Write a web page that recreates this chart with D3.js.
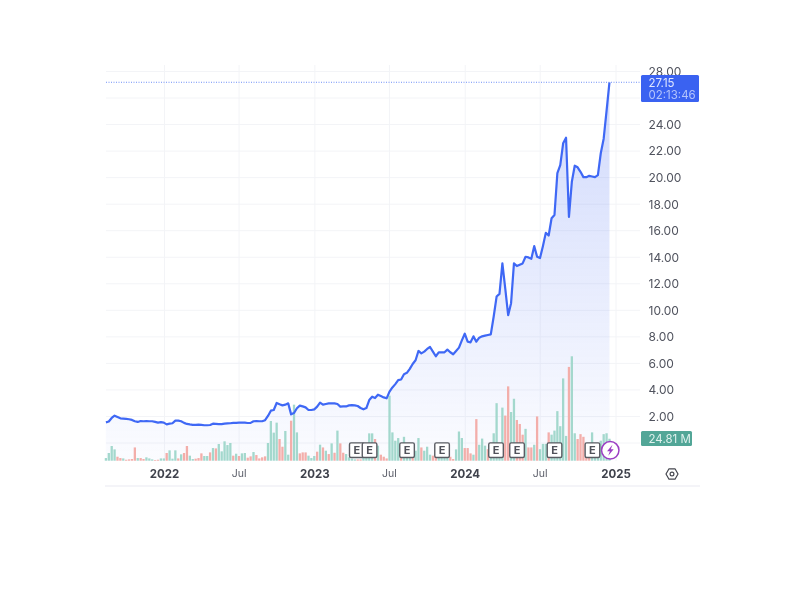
<!DOCTYPE html>
<html><head><meta charset="utf-8">
<script src="https://cdn.jsdelivr.net/npm/d3@7"></script>
<style>
html,body{margin:0;padding:0;background:#fff}
svg{display:block;filter:blur(0.5px)}
text{font-family:Inter,"Noto Sans",sans-serif}
</style></head><body>
<script>
const prices=[1.52,1.58,1.85,2.02,1.92,1.82,1.80,1.78,1.75,1.70,1.60,1.55,1.62,1.60,1.61,1.60,1.60,1.55,1.50,1.53,1.50,1.37,1.42,1.45,1.65,1.65,1.60,1.48,1.40,1.36,1.33,1.33,1.35,1.33,1.30,1.30,1.32,1.42,1.40,1.38,1.38,1.42,1.44,1.45,1.48,1.48,1.50,1.50,1.50,1.47,1.48,1.60,1.62,1.60,1.60,1.68,2.00,2.40,2.45,2.98,2.88,2.80,2.85,2.95,2.12,2.22,2.58,2.78,2.72,2.65,2.45,2.45,2.50,2.70,3.00,2.85,2.90,2.95,2.95,2.95,2.90,2.70,2.72,2.72,2.80,2.82,2.80,2.75,2.60,2.50,2.60,3.20,3.45,3.35,3.60,3.50,3.40,3.33,3.83,4.15,4.40,4.70,4.75,5.15,5.25,5.55,5.92,6.20,6.90,6.72,6.85,7.05,7.20,6.85,6.50,6.80,6.80,6.80,7.00,6.80,6.65,6.90,7.15,7.70,8.20,7.60,7.55,8.00,7.60,7.90,8.00,8.05,8.10,8.15,9.50,11.00,11.20,13.50,11.60,9.60,10.50,13.50,13.30,13.40,13.50,14.00,13.95,13.85,14.80,14.00,13.90,14.80,15.80,15.60,16.90,17.15,20.30,20.90,22.55,22.97,17.00,19.65,20.86,20.74,20.40,20.00,20.00,20.10,20.05,20.00,20.15,21.80,22.90,25.00,27.15];
const volumes=[3,8.7,16.6,12.8,4.5,3,2.6,1.1,1.5,1.9,15,3,3,1.9,3.8,2.6,1.5,0.8,1.1,2.6,2.6,8.7,11.7,2.3,11.7,2.6,7.2,8.7,16.6,5.7,1.9,2.3,3,8.3,5.3,5.3,9.4,14.3,13.9,18.9,10.6,21.9,17.7,20,5.7,7.9,5.3,8.3,8.7,3.4,4.9,9.8,6.4,2.6,3.8,4.9,20,44.9,31.7,43,24.5,15.8,33.6,6.8,45.2,63.3,32,8.3,9.4,9.4,5.7,3,5.3,10.2,18.1,15,11.3,7.5,19.6,9,34,19.6,9,7.5,3.8,2.3,1.5,1.5,1.5,3,11.3,30.9,30.9,24.5,17,6.8,4.5,2.6,73.5,32,22.6,25.6,17,27,11.3,9.4,7.5,11.3,25.6,15,11.3,15.8,6.8,5.7,7.5,9.4,7.5,4.5,9.4,4.5,1.9,12.8,33,25.6,14.3,14.3,8.3,6.8,47,18,25,17,13,11.3,31,65,15,60,51,84,55,70,46,41.5,29.4,36,15,15,18,50,13,19,19,32,29.4,34,56,39,93,28,106,118,31,24.5,30,27,15,11.3,32,11.3,13,22.6,30,31,24.81];
const volUp=[1,1,1,1,0,0,1,0,0,0,0,1,0,0,1,1,1,0,0,1,1,0,1,1,1,0,1,0,0,1,1,0,0,0,1,1,0,1,0,1,1,1,1,1,0,1,0,1,1,0,0,1,0,0,0,0,1,1,1,1,0,0,1,1,0,1,1,0,0,0,1,1,1,0,1,0,1,0,1,0,1,0,0,1,1,1,1,0,0,1,1,1,1,0,1,0,0,0,1,1,1,1,0,1,1,1,0,1,1,0,1,1,1,0,0,1,1,1,1,0,0,1,1,1,0,0,0,1,0,1,1,1,0,1,1,1,1,1,0,0,1,1,0,0,0,1,0,0,1,0,1,1,1,0,1,1,1,1,1,1,0,1,1,0,0,0,0,0,1,1,1,1,1,1,1];
const priceLabels=[2,4,6,8,10,12,14,16,18,20,22,24,28];
const priceGrid=[0,2,4,6,8,10,12,14,16,18,20,22,24,26,28];
const yearTicks=["2022-01-01","2022-07-01","2023-01-01","2023-07-01","2024-01-01","2024-07-01","2025-01-01"];
const tickNames=["2022","Jul","2023","Jul","2024","Jul","2025"];
const earningsDates=["2023-04-14","2023-05-15","2023-08-14","2023-11-07","2024-03-17","2024-05-07","2024-08-06","2024-11-06"];
const lastPrice=27.15, lastPriceTime="02:13:46", lastVolumeLabel="24.81 M";
const startDate=new Date(2021,7,13);
const stepHours=168.6;

const dates=prices.map((_,i)=>d3.timeHour.offset(startDate,stepHours*i));
const tickDates=yearTicks.map(s=>d3.timeParse("%Y-%m-%d")(s));
const W=800,H=600;
const x=d3.scaleTime().domain([tickDates[0],tickDates[6]]).range([164,615.5]);
const y=d3.scaleLinear().domain([0,28]).range([442.5,71]);
const yV=d3.scaleLinear().domain([0,120]).range([460.7,354.5]);
const svg=d3.select("body").append("svg").attr("width",W).attr("height",H);
const defs=svg.append("defs");
const g=defs.append("linearGradient").attr("id","fill").attr("x1",0).attr("x2",0).attr("y1",0).attr("y2",1);
g.append("stop").attr("offset",0).attr("stop-color","#3d63f2").attr("stop-opacity",.24);
g.append("stop").attr("offset",1).attr("stop-color","#3d63f2").attr("stop-opacity",.02);

// grid
const gridC="#f3f4f7";
const gy=svg.append("g").attr("transform","translate(106,0)").call(d3.axisRight(y).tickValues(priceGrid).tickSize(534).tickFormat(""));
gy.select(".domain").remove(); gy.selectAll("line").attr("stroke",gridC);
const gx=svg.append("g").attr("transform","translate(0,65)").call(d3.axisBottom(x).tickValues(tickDates).tickSize(396).tickFormat(""));
gx.select(".domain").remove(); gx.selectAll("line").attr("stroke",gridC);

// area, volume, line
svg.append("path").datum(prices).attr("fill","url(#fill)")
 .attr("d",d3.area().x((d,i)=>x(dates[i])).y0(yV(0)).y1(d=>y(d)));
svg.append("g").selectAll("rect").data(volumes).join("rect")
 .attr("x",(d,i)=>x(dates[i])-1.15).attr("width",2.3)
 .attr("y",d=>yV(d)).attr("height",d=>yV(0)-yV(d))
 .attr("fill",(d,i)=>volUp[i]?"#a3d8cd":"#f3aeaa");
svg.append("path").datum(prices).attr("fill","none").attr("stroke","#3f68f5").attr("stroke-width",2.2).attr("stroke-linejoin","round")
 .attr("d",d3.line().x((d,i)=>x(dates[i])).y(d=>y(d)));

// last price line
svg.append("line").attr("x1",106).attr("x2",641).attr("y1",y(lastPrice)).attr("y2",y(lastPrice))
 .attr("stroke","#6f8ff7").attr("stroke-dasharray","1 1.5");

// axes
const ay=svg.append("g").attr("transform","translate(640,0)").call(d3.axisRight(y).tickValues(priceLabels).tickSize(0).tickPadding(8.5).tickFormat(d3.format(".2f")));
ay.select(".domain").remove();
ay.selectAll("text").attr("font-size",12).attr("fill","#50535e").attr("dy","0.36em");
const ax=svg.append("g").attr("transform","translate(0,468)").call(d3.axisBottom(x).tickValues(tickDates).tickSize(0).tickPadding(2).tickFormat((d,i)=>tickNames[i]));
ax.select(".domain").remove();
ax.selectAll("text").attr("font-size",(d,i)=>i%2?10.5:11.5).attr("font-weight",(d,i)=>i%2?400:700)
 .attr("fill",(d,i)=>i%2?"#5a5d68":"#3f424c");
svg.append("line").attr("x1",105).attr("x2",700).attr("y1",486).attr("y2",486).attr("stroke","#e9eaf2").attr("stroke-width",1.2);

// price tag
svg.append("rect").attr("x",641).attr("y",75).attr("width",58).attr("height",27).attr("rx",1.5).attr("fill","#3a62f1");
svg.append("text").attr("x",648.5).attr("y",86.5).attr("font-size",11.5).attr("fill","#dfe6ff").text(lastPrice.toFixed(2));
svg.append("text").attr("x",648.5).attr("y",99).attr("font-size",11.5).attr("fill","#b4c4fb").text(lastPriceTime);
// volume tag
svg.append("rect").attr("x",641).attr("y",431).attr("width",51).attr("height",15).attr("rx",1.5).attr("fill","#52a697");
svg.append("text").attr("x",648.5).attr("y",442.5).attr("font-size",11.5).attr("fill","#dff1ed").text(lastVolumeLabel);

// earnings markers
const eg=svg.append("g").selectAll("g").data(earningsDates.map(d3.timeParse("%Y-%m-%d"))).join("g")
 .attr("transform",d=>`translate(${x(d)},450.2)`);
eg.append("rect").attr("x",-7.3).attr("y",-7.3).attr("width",14.6).attr("height",14.6).attr("rx",1.5).attr("fill","#fff").attr("stroke","#5a5c63").attr("stroke-width",1.4);
eg.append("text").attr("text-anchor","middle").attr("y",4).attr("font-size",11).attr("font-weight",700).attr("fill","#50525a").text("E");

// bolt marker
const bx=x(dates[dates.length-1])+0.8;
const bolt=svg.append("g").attr("transform",`translate(${bx},450.3)`);
bolt.append("circle").attr("r",8.7).attr("fill","#fff").attr("stroke","#9c3fc4").attr("stroke-width",1.5);
bolt.append("path").attr("d","M2.2,-5.5 L-3.2,1 L-0.4,1 L-2,5.5 L3.4,-1 L0.6,-1 Z").attr("fill","#9c3fc4");

// settings icon
const gear=svg.append("g").attr("transform","translate(672,474)");
gear.append("path").attr("d","M-6,0 L-3,-5.2 L3,-5.2 L6,0 L3,5.2 L-3,5.2 Z").attr("fill","none").attr("stroke","#44464e").attr("stroke-width",1.2).attr("stroke-linejoin","round");
gear.append("circle").attr("r",1.9).attr("fill","none").attr("stroke","#44464e").attr("stroke-width",1.2);
</script></body></html>
